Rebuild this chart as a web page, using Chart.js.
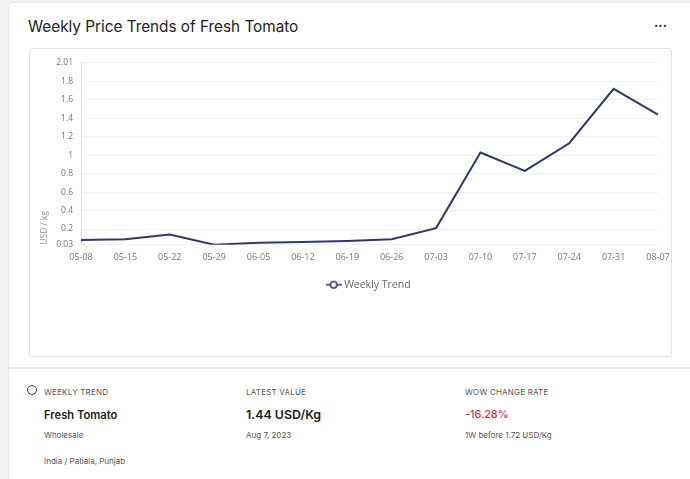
<!DOCTYPE html>
<html>
<head>
<meta charset="utf-8">
<script src="https://cdn.jsdelivr.net/npm/chart.js@4"></script>
<style>
  html, body { margin: 0; padding: 0; }
  body { width: 690px; height: 479px; background: #f2f2f2; font-family: Inter, Roboto, sans-serif; overflow: hidden; position: relative; }
  .card { position: absolute; left: 8px; top: 2px; width: 690px; height: 490px; background: #fff; border: 1px solid #e6e6e6; border-radius: 4px; }
  .title { position: absolute; left: 19px; top: 14px; font-size: 15.3px; color: #222; }
  .dots { position: absolute; left: 645px; top: 14px; font-size: 13px; color: #333; font-weight: bold; }
  .box { position: absolute; left: 20px; top: 45px; width: 641px; height: 307px; border: 1px solid #e4e4e4; border-radius: 3px; }
  .sep { position: absolute; left: 0; top: 364px; width: 690px; height: 2px; background: #ececec; }
  .col { position: absolute; top: 387px; }
  .lbl { font-size: 8px; color: #555; letter-spacing: 0.2px; line-height: 10px; }
  .big { color: #222; font-weight: 600; margin-top: 11px; line-height: 14px; }
  .sub { font-size: 8px; color: #555; margin-top: 8px; line-height: 10px; }
  .ring { position: absolute; left: 27px; top: 385px; width: 8px; height: 8px; border: 1.3px solid #2d3a6b; border-radius: 50%; }
</style>
</head>
<body>
<div class="card">
  <div class="title">Weekly Price Trends of Fresh Tomato</div>
  <div class="dots">···</div>
  <div class="box"><canvas id="c" width="641" height="251" style="display:block;width:641px;height:251px"></canvas></div>
  <div class="sep"></div>
</div>
<div class="ring"></div>
<div class="col" style="left:44px">
  <div class="lbl">WEEKLY TREND</div>
  <div class="big" style="font-size:11.2px">Fresh Tomato</div>
  <div class="sub">Wholesale</div>
  <div class="sub" style="margin-top:16px">India / Patiala, Punjab</div>
</div>
<div class="col" style="left:246px">
  <div class="lbl">LATEST VALUE</div>
  <div class="big" style="font-size:12.4px">1.44 USD/Kg</div>
  <div class="sub">Aug 7, 2023</div>
</div>
<div class="col" style="left:465px">
  <div class="lbl">WOW CHANGE RATE</div>
  <div class="big" style="font-size:10.8px;color:#d9323a;font-weight:500">-16.28%</div>
  <div class="sub">1W before 1.72 USD/Kg</div>
</div>
<script>
const weeks = ['05-08', '05-15', '05-22', '05-29', '06-05', '06-12', '06-19', '06-26', '07-03', '07-10', '07-17', '07-24', '07-31', '08-07'];
const prices = [0.08, 0.09, 0.14, 0.03, 0.05, 0.06, 0.07, 0.09, 0.21, 1.03, 0.83, 1.13, 1.72, 1.44];
const yTicks = [0.03, 0.2, 0.4, 0.6, 0.8, 1, 1.2, 1.4, 1.6, 1.8, 2.01];
const lineColor = '#2d3a6b';

// legend icon: short line with a hollow circle
const icon = document.createElement('canvas');
icon.width = 16; icon.height = 10;
const ic = icon.getContext('2d');
ic.strokeStyle = lineColor;
ic.lineWidth = 1.5;
ic.beginPath(); ic.moveTo(0, 5); ic.lineTo(16, 5); ic.stroke();
ic.beginPath(); ic.arc(8, 5, 3.2, 0, 2 * Math.PI);
ic.fillStyle = '#fff'; ic.fill(); ic.stroke();

// center the legend over the plot area instead of the whole canvas
const legendOverPlot = {
  id: 'legendOverPlot',
  afterLayout(chart) {
    if (chart.legend) {
      chart.legend.left = chart.chartArea.left;
      chart.legend.right = chart.chartArea.right;
    }
  }
};

new Chart(document.getElementById('c'), {
  type: 'line',
  data: {
    labels: weeks,
    datasets: [{
      label: 'Weekly Trend',
      data: prices,
      borderColor: lineColor,
      backgroundColor: '#fff',
      borderWidth: 2,
      pointRadius: 0,
      tension: 0
    }]
  },
  options: {
    responsive: false,
    animation: false,
    layout: { padding: { top: 12, right: 13, left: 0, bottom: 0 } },
    scales: {
      x: {
        offset: false,
        afterFit: (s) => { s.paddingLeft = 0; s.paddingRight = 0; },
        grid: { display: false, drawTicks: false },
        border: { display: false },
        ticks: { color: '#777', font: { family: 'Open Sans', size: 9 }, maxRotation: 0, autoSkip: false, padding: 7 }
      },
      y: {
        min: 0.03,
        max: 2.01,
        afterBuildTicks: (s) => { s.ticks = yTicks.map(v => ({ value: v })); },
        afterFit: (s) => { s.width = 51; },
        grid: { color: '#f1f1f1', drawTicks: false },
        border: { display: true, color: '#dcdcdc', width: 1 },
        ticks: { color: '#777', font: { family: 'Open Sans', size: 8.5 }, padding: 8, callback: (v) => String(v) },
        title: { display: true, text: 'USD / kg', align: 'start', color: '#999', font: { family: 'Open Sans', size: 8.5 }, padding: { top: 9, bottom: 0 } }
      }
    },
    plugins: {
      legend: {
        position: 'bottom',
        labels: { usePointStyle: true, pointStyle: icon, color: '#666', font: { family: 'Open Sans', size: 10.5 }, padding: 10 }
      },
      tooltip: { enabled: false }
    }
  },
  plugins: [legendOverPlot]
});
</script>
</body>
</html>
